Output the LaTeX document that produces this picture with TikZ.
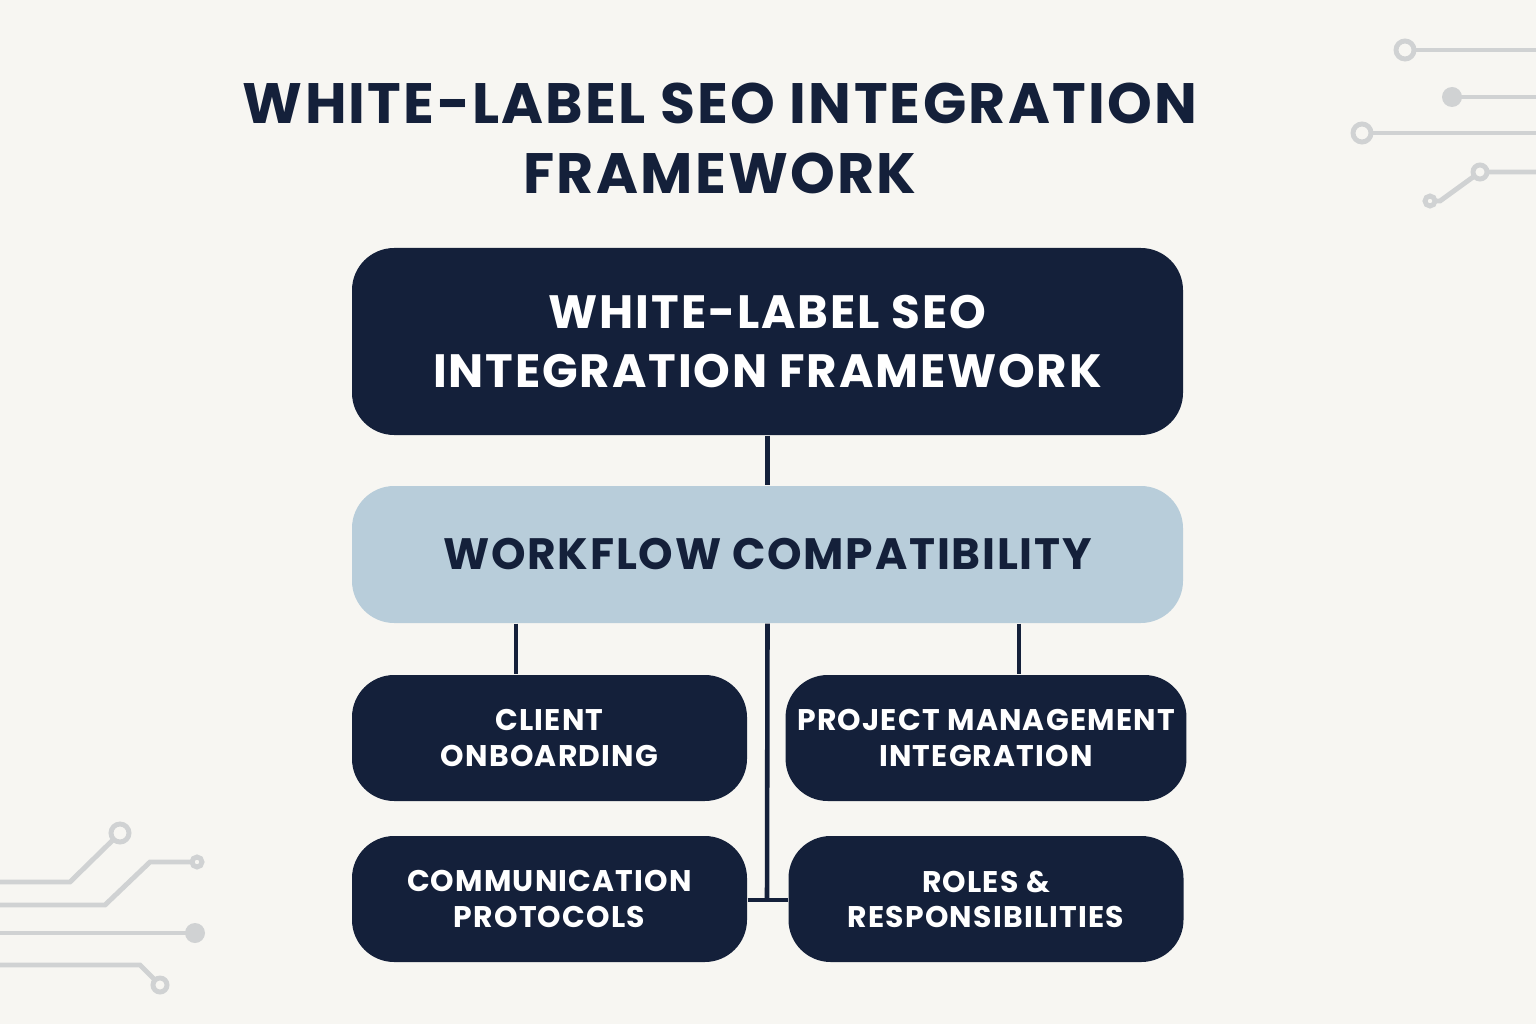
\documentclass[tikz,border=0pt]{standalone}
\usepackage{fontspec}
\setmainfont{Poppins}[LetterSpace=4]
\definecolor{navy}{HTML}{14203A}
\definecolor{paleblue}{HTML}{B8CDDA}
\definecolor{bgcol}{HTML}{F7F6F2}
\definecolor{wire}{HTML}{D0D2D3}
\begin{document}
\begin{tikzpicture}[
    darkbox/.style={rectangle, rounded corners=12pt, fill=navy, text=white, font=\bfseries, align=center},
    smallbox/.style={darkbox, minimum width=3.95cm, minimum height=1.26cm, font=\bfseries\fontsize{8.5}{10}\selectfont},
    link/.style={navy, line width=1.3pt},
    deco/.style={wire, line width=1.4pt},
    ring/.style={circle, draw=wire, line width=1.4pt, fill=bgcol, inner sep=0pt, minimum size=#1}
  ]
  \fill[bgcol] (0,0) rectangle (15.36,10.24);
  \useasboundingbox (0,0) rectangle (15.36,10.24);

  % title
  \node[text=navy, font=\bfseries\fontsize{16.2}{19.9}\selectfont, align=center] (title) at (7.2,8.86)
    {WHITE-LABEL SEO INTEGRATION\\FRAMEWORK};

  % boxes
  \node[darkbox, minimum width=8.31cm, minimum height=1.87cm, font=\bfseries\fontsize{13.3}{17}\selectfont] (main) at (7.675,6.825)
    {WHITE-LABEL SEO\\INTEGRATION FRAMEWORK};
  \node[rectangle, rounded corners=12pt, fill=paleblue, text=navy, minimum width=8.31cm, minimum height=1.37cm, font=\bfseries\fontsize{12.5}{15}\selectfont] (flow) at (7.675,4.695)
    {WORKFLOW COMPATIBILITY};
  \node[smallbox] (client) at (5.495,2.86) {CLIENT\\ONBOARDING};
  \node[smallbox] (pm) at (9.86,2.86) {PROJECT MANAGEMENT\\INTEGRATION};
  \node[smallbox] (comm) at (5.495,1.25) {COMMUNICATION\\PROTOCOLS};
  \node[smallbox] (roles) at (9.86,1.25) {ROLES \&\\RESPONSIBILITIES};

  % connectors
  \coordinate (hub) at (7.67,1.24);
  \draw[link] (main.south) -- (flow.north);
  \draw[link] (flow.south -| 5.16,0) -- (client.north -| 5.16,0);
  \draw[link] (flow.south -| 10.19,0) -- (pm.north -| 10.19,0);
  \draw[link] (flow.south) -- (hub);
  \draw[link] (comm.east |- hub) -- (roles.west |- hub);

  % circuit decoration, top right
  \draw[deco] (14.15,9.74) -- (15.36,9.74);
  \draw[deco] (14.52,9.27) -- (15.36,9.27);
  \draw[deco] (13.72,8.91) -- (15.36,8.91);
  \draw[deco] (15.36,8.52) -- (14.8,8.52) -- (14.4,8.23) -- (14.3,8.23);
  \node[ring=0.18cm] at (14.05,9.74) {};
  \node[circle, fill=wire, inner sep=0pt, minimum size=0.2cm] at (14.52,9.27) {};
  \node[ring=0.18cm] at (13.62,8.91) {};
  \node[ring=0.14cm] at (14.8,8.52) {};
  \node[ring=0.1cm] at (14.3,8.23) {};

  % circuit decoration, bottom left
  \draw[deco] (0,1.42) -- (0.7,1.42) -- (1.2,1.91);
  \draw[deco] (0,1.19) -- (1.05,1.19) -- (1.5,1.62) -- (1.95,1.62);
  \draw[deco] (0,0.91) -- (1.95,0.91);
  \draw[deco] (0,0.59) -- (1.4,0.59) -- (1.6,0.39);
  \node[ring=0.18cm] at (1.2,1.91) {};
  \node[ring=0.1cm] at (1.97,1.62) {};
  \node[circle, fill=wire, inner sep=0pt, minimum size=0.2cm] at (1.95,0.91) {};
  \node[ring=0.14cm] at (1.6,0.39) {};
\end{tikzpicture}
\end{document}
